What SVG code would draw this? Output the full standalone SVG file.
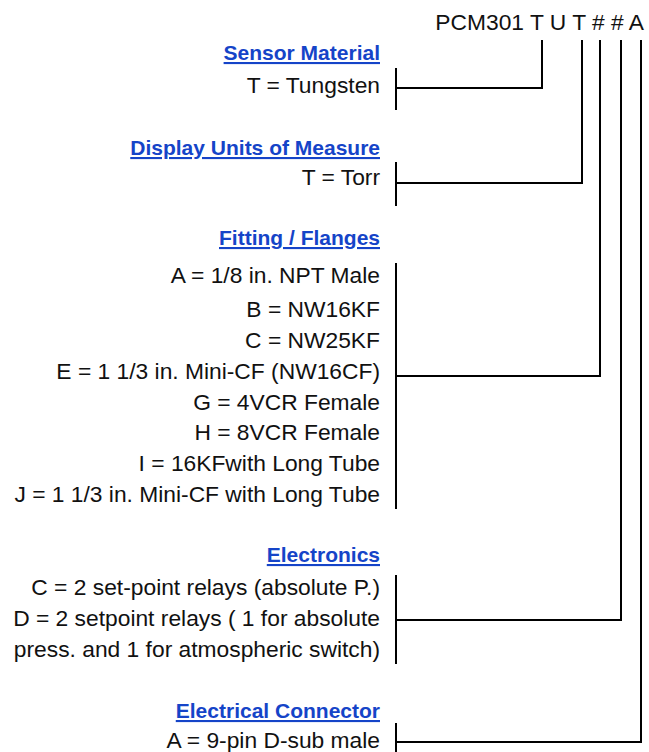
<svg xmlns="http://www.w3.org/2000/svg" width="649" height="752" viewBox="0 0 649 752">
<style>
text{font-family:"Liberation Sans",Arial,sans-serif;font-size:22.8px;fill:#111;text-anchor:end}
.h{font-weight:bold;font-size:21px;fill:#1544c8;text-decoration:underline}
line,polyline{stroke:#000;stroke-width:2;fill:none}
</style>
<rect width="649" height="752" fill="#fff"/>
<g id="title"><text x="644" y="30">PCM301 T U T # # A</text></g>
<g id="sensor-material">
<text class="h" x="380" y="60">Sensor Material</text>
<text x="380" y="93">T = Tungsten</text>
</g>
<g id="display-units">
<text class="h" x="380" y="155">Display Units of Measure</text>
<text x="380" y="185">T = Torr</text>
</g>
<g id="fitting-flanges">
<text class="h" x="380" y="245">Fitting / Flanges</text>
<text x="380" y="283">A = 1/8 in. NPT Male</text>
<text x="380" y="317">B = NW16KF</text>
<text x="380" y="348">C = NW25KF</text>
<text x="380" y="379">E = 1 1/3 in. Mini-CF (NW16CF)</text>
<text x="380" y="410">G = 4VCR Female</text>
<text x="380" y="440">H = 8VCR Female</text>
<text x="380" y="471">I = 16KFwith Long Tube</text>
<text x="380" y="502">J = 1 1/3 in. Mini-CF with Long Tube</text>
</g>
<g id="electronics">
<text class="h" x="380" y="562">Electronics</text>
<text x="380" y="595">C = 2 set-point relays (absolute P.)</text>
<text x="380" y="626">D = 2 setpoint relays ( 1 for absolute</text>
<text x="380" y="657">press. and 1 for atmospheric switch)</text>
</g>
<g id="electrical-connector">
<text class="h" x="380" y="718">Electrical Connector</text>
<text x="380" y="748">A = 9-pin D-sub male</text>
</g>
<g id="connectors">
<line x1="396" y1="68" x2="396" y2="110"/>
<polyline points="396,88 542,88 542,40"/>
<line x1="396" y1="162" x2="396" y2="206"/>
<polyline points="396,183 582,183 582,40"/>
<line x1="396" y1="263" x2="396" y2="509"/>
<polyline points="396,376 600,376 600,40"/>
<line x1="396" y1="575" x2="396" y2="664"/>
<polyline points="396,620 621,620 621,40"/>
<line x1="396" y1="723" x2="396" y2="752"/>
<polyline points="396,742 641,742 641,40"/>
</g>
</svg>
